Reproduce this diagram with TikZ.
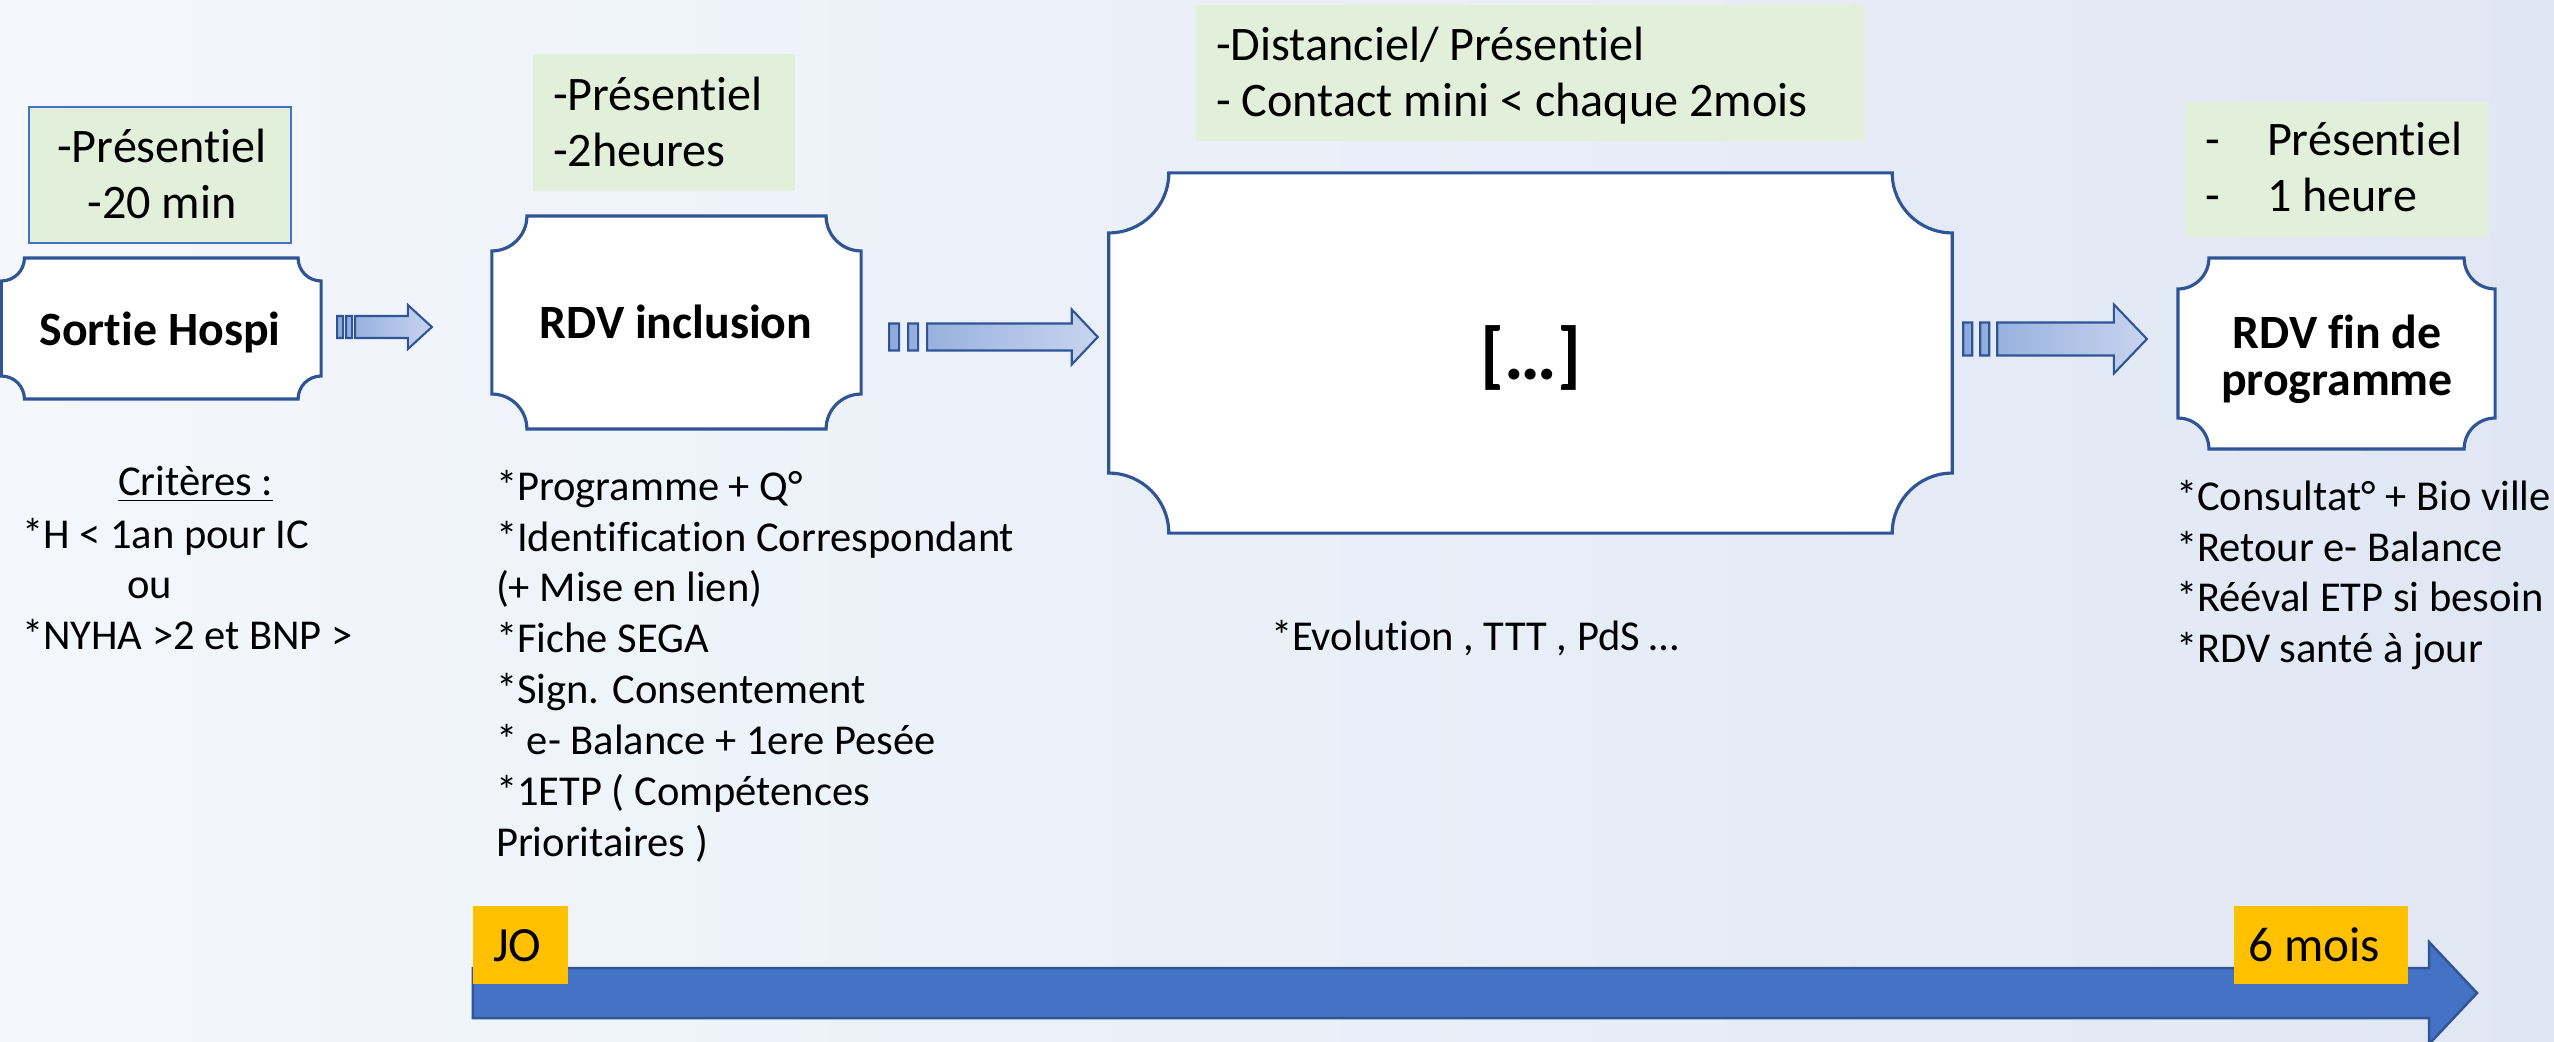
\documentclass[tikz,border=0pt]{standalone}
\usepackage{fontspec}
\setmainfont{Carlito}[Ligatures=NoCommon]
\usetikzlibrary{calc}
\definecolor{bgL}{HTML}{F4F7FC}
\definecolor{bgR}{HTML}{E0E7F4}
\definecolor{greenbg}{HTML}{E2EFDA}
\definecolor{boxc}{HTML}{2F5597}
\definecolor{lightblue}{HTML}{4472C4}
\definecolor{arrL}{HTML}{8EA9DB}
\definecolor{arrR}{HTML}{C8D4EF}
\definecolor{yel}{HTML}{FFC000}
\def\pxu{0.284528pt}
\tikzset{
  plaquestyle/.style={draw=boxc, line width=0.9pt, fill=white},
  boxframe/.style={inner sep=0pt, outer sep=0pt, draw=none},
  greenbox/.style={inner sep=0pt, outer sep=0pt, fill=greenbg},
  yelbox/.style={inner sep=0pt, outer sep=0pt, fill=yel},
  arrowstyle/.style={left color=arrL, right color=arrR, draw=boxc, line width=0.6pt},
  timeline/.style={fill=lightblue, draw=boxc, line width=0.7pt},
  txt/.style={inner sep=0pt, outer sep=0pt, font=\fontsize{12.1}{14.5}\selectfont},
  gtxt/.style={inner sep=0pt, outer sep=0pt, font=\fontsize{13.7}{16}\selectfont},
  title/.style={inner sep=0pt, outer sep=0pt, font=\fontsize{13.6}{13.4}\selectfont\bfseries},
  ytxt/.style={inner sep=0pt, outer sep=0pt, font=\fontsize{14}{14}\selectfont},
}
\newcommand\plaque[2]{%
  \pgfmathsetmacro\plr{#2*0.284528}%
  \path[plaquestyle] let \p1=(#1.north west), \p2=(#1.south east) in
    (\x1+\plr pt,\y1) -- (\x2-\plr pt,\y1)
    arc[start angle=180,end angle=270,radius=\plr pt] -- (\x2,\y2+\plr pt)
    arc[start angle=90,end angle=180,radius=\plr pt] -- (\x1+\plr pt,\y2)
    arc[start angle=0,end angle=90,radius=\plr pt] -- (\x1,\y1-\plr pt)
    arc[start angle=270,end angle=360,radius=\plr pt] -- cycle;}
% #1 start, #2 tip, #3 body half, #4 head half, #5 head length, #6 stripe width, #7 gap
\newcommand\stripedarrow[7]{%
  \path[arrowstyle] let \p1=(#1),\p2=(#2) in
    (\x1,\y1-#3*\pxu) rectangle (\x1+#6*\pxu,\y1+#3*\pxu)
    (\x1+#6*\pxu+#7*\pxu,\y1-#3*\pxu) rectangle (\x1+2*#6*\pxu+#7*\pxu,\y1+#3*\pxu)
    (\x1+2*#6*\pxu+2*#7*\pxu,\y1-#3*\pxu) -- (\x2-#5*\pxu,\y1-#3*\pxu)
    -- (\x2-#5*\pxu,\y1-#4*\pxu) -- (\x2,\y1) -- (\x2-#5*\pxu,\y1+#4*\pxu)
    -- (\x2-#5*\pxu,\y1+#3*\pxu) -- (\x1+2*#6*\pxu+2*#7*\pxu,\y1+#3*\pxu) -- cycle;}
\begin{document}
\begin{tikzpicture}[x=0.01cm,y=0.01cm]
\useasboundingbox (0,0) rectangle (2554,1041);
\shade[left color=bgL, right color=bgR] (0,0) rectangle (2554,1041);

% green info boxes
\node[greenbox, draw=lightblue, line width=0.6pt, minimum width=2.62cm, minimum height=1.36cm] (g1) at (160,866) {};
\node[greenbox, minimum width=2.62cm, minimum height=1.37cm] (g2) at (664,918.5) {};
\node[greenbox, minimum width=6.69cm, minimum height=1.36cm] (g3) at (1530.5,968) {};
\node[greenbox, minimum width=3.04cm, minimum height=1.35cm] (g4) at (2337,871.5) {};

\node[gtxt, anchor=base] (g1t) at (162,879) {\begin{tabular}[t]{@{}c@{}}-Présentiel\\-20 min\end{tabular}};
\node[gtxt, anchor=base west] (g2t) at (553,931) {\begin{tabular}[t]{@{}l@{}}-Présentiel\\-2heures\end{tabular}};
\node[gtxt, anchor=base west] (g3t) at (1216,981) {\begin{tabular}[t]{@{}l@{}}-Distanciel/ Présentiel\\- Contact mini < chaque 2mois\end{tabular}};
\node[gtxt, anchor=base west] (g4t) at (2205,886) {\begin{tabular}[t]{@{}p{0.62cm}@{}l@{}}-&Présentiel\\-&1 heure\end{tabular}};

% plaque boxes
\node[boxframe, minimum width=3.195cm, minimum height=1.41cm] (b1) at (161.25,712.5) {};
\node[boxframe, minimum width=3.69cm, minimum height=2.13cm] (b2) at (676.5,718.5) {};
\node[boxframe, minimum width=8.43cm, minimum height=3.60cm] (b3) at (1530.5,688) {};
\node[boxframe, minimum width=3.17cm, minimum height=1.91cm] (b4) at (2336.5,687.5) {};
\plaque{b1}{23}
\plaque{b2}{35}
\plaque{b3}{60}
\plaque{b4}{31}

\node[title, anchor=base] (b1t) at (160,696) {Sortie Hospi};
\node[title, anchor=base] (b2t) at (676,703) {RDV inclusion};
\node[title, font=\fontsize{21}{22}\selectfont\bfseries] (b3t) at (1531,683.5) {[…]};
\node[title, anchor=base] (b4t) at (2337,693) {\begin{tabular}[t]{@{}c@{}}RDV fin de\\programme\end{tabular}};

% striped arrows between boxes
\coordinate (a1s) at ($(b1.east)+(16,1.5)$);
\coordinate (a1t) at ($(b2.west)+(-60,0)$);
\coordinate (a2s) at ($(b2.east)+(28,-14.5)$);
\coordinate (a2t) at ($(b3.west)+(-11,0)$);
\coordinate (a3s) at ($(b3.east)+(11,14)$);
\coordinate (a3t) at ($(b4.west)+(-31,0)$);
\stripedarrow{a1s}{a1t}{11}{22}{24}{6}{3}
\stripedarrow{a2s}{a2t}{13.5}{27.5}{26}{10}{9}
\stripedarrow{a3s}{a3t}{16.5}{34.5}{33}{9}{8}

% texts below boxes
\node[txt, anchor=base west] (crit) at (118,546) {\underline{Critères :}};
\node[txt, anchor=base west] (critl) at (22,493) {\begin{tabular}[t]{@{}l@{}}*H < 1an pour IC\\\hspace*{1.05cm}ou\\{}*NYHA >2 et BNP >\end{tabular}};
\node[txt, anchor=base west] (midl) at (496,541) {\begin{tabular}[t]{@{}l@{}}*Programme + Q°\\{}*Identification Correspondant\\(+ Mise en lien)\\{}*Fiche SEGA\\{}*Sign. Consentement\\{}* e- Balance + 1ere Pesée\\{}*1ETP ( Compétences\\Prioritaires )\end{tabular}};
\node[txt, anchor=base west] (evo) at (1271,391) {*Evolution , TTT , PdS …};
\node[txt, anchor=base west] (rightl) at (2176,531) {\begin{tabular}[t]{@{}l@{}}*Consultat° + Bio ville\\{}*Retour e- Balance\\{}*Rééval ETP si besoin\\{}*RDV santé à jour\end{tabular}};

% timeline
\node[yelbox, minimum width=0.95cm, minimum height=0.78cm] (jo) at (520.5,96) {};
\node[yelbox, minimum width=1.74cm, minimum height=0.78cm] (six) at (2321,96) {};
\coordinate (t0) at ($(jo.south west)+(0,-9)$);
\coordinate (t1) at ($(six.east)+(69,-48)$);
\path[timeline] let \p1=(t0),\p2=(t1) in
  (\x1,\y1-25*\pxu) -- (\x2-48*\pxu,\y1-25*\pxu) -- (\x2-48*\pxu,\y1-51*\pxu)
  -- (\x2,\y1) -- (\x2-48*\pxu,\y1+51*\pxu) -- (\x2-48*\pxu,\y1+25*\pxu)
  -- (\x1,\y1+25*\pxu) -- cycle;
\node[yelbox, minimum width=0.95cm, minimum height=0.78cm] at (jo) {};
\node[yelbox, minimum width=1.74cm, minimum height=0.78cm] at (six) {};
\node[ytxt, anchor=base west] (jot) at (493,80) {JO};
\node[ytxt, anchor=base west] (sixt) at (2248,80) {6 mois};
\end{tikzpicture}
\end{document}
